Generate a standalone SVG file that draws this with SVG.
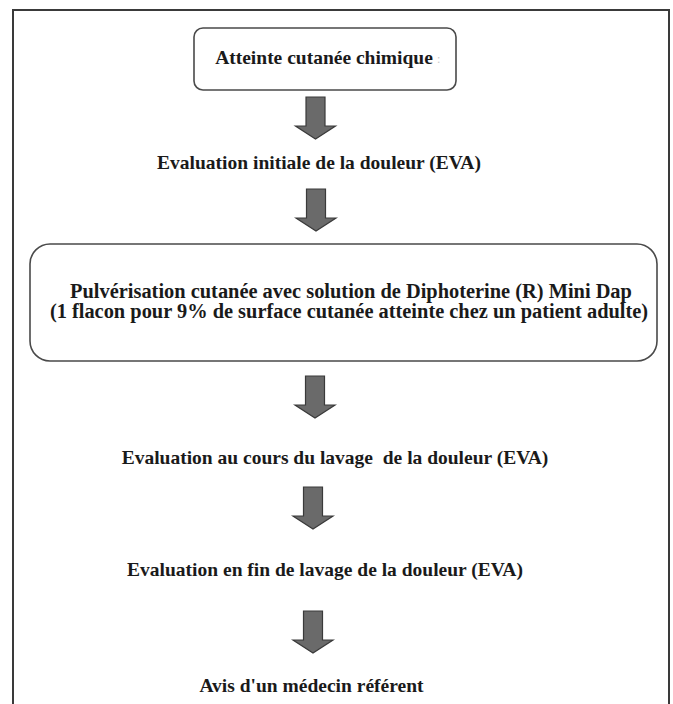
<svg xmlns="http://www.w3.org/2000/svg" width="673" height="704" viewBox="0 0 673 704">
  <defs>
    <style>
      .frame { fill: none; stroke: #3a3a3a; stroke-width: 2; }
      .box { fill: #ffffff; stroke: #4a4a4a; stroke-width: 1.6; }
      .lbl { font-family: "Liberation Serif", "Times New Roman", serif; font-weight: bold; font-size: 19.5px; fill: #1a1a1a; text-anchor: middle; }
      .big { font-size: 20.4px; }
      .arrow { fill: #6a6a6a; stroke: #3a3a3a; stroke-width: 1.2; stroke-linejoin: miter; }
    </style>
    <path id="downArrow" d="M -9.5 0 H 9.5 V 29 H 20 L 0 42 L -20 29 H -9.5 Z"/>
  </defs>
  <rect width="673" height="704" fill="#ffffff"/>
  <path class="frame" d="M 13 704 V 10 H 669 V 704"/>

  <g id="connectors">
    <use href="#downArrow" class="arrow" transform="translate(315.5 97)"/>
    <use href="#downArrow" class="arrow" transform="translate(316 189)"/>
    <use href="#downArrow" class="arrow" transform="translate(315 376)"/>
    <use href="#downArrow" class="arrow" transform="translate(313 487)"/>
    <use href="#downArrow" class="arrow" transform="translate(313 611)"/>
  </g>

  <g id="node-atteinte">
    <rect class="box" x="194" y="28" width="262" height="62" rx="9" ry="9"/>
    <text class="lbl" x="324" y="64">Atteinte cutanée chimique</text>
    <text x="437" y="63" font-family="Liberation Serif, serif" font-size="12" fill="#c8c8c8">:</text>
  </g>

  <g id="node-eva-initiale">
    <text class="lbl" x="319" y="169">Evaluation initiale de la douleur (EVA)</text>
  </g>

  <g id="node-pulverisation">
    <rect class="box" x="30" y="244" width="627" height="117" rx="20" ry="20"/>
    <text class="lbl big" x="351" y="298">Pulvérisation cutanée avec solution de Diphoterine (R) Mini Dap</text>
    <text class="lbl big" x="349" y="318">(1 flacon pour 9% de surface cutanée atteinte chez un patient adulte)</text>
  </g>

  <g id="node-eva-cours">
    <text class="lbl" x="335" y="464" xml:space="preserve">Evaluation au cours du lavage  de la douleur (EVA)</text>
  </g>

  <g id="node-eva-fin">
    <text class="lbl" x="325" y="576">Evaluation en fin de lavage de la douleur (EVA)</text>
  </g>

  <g id="node-avis">
    <text class="lbl" x="311.5" y="692">Avis d'un médecin référent</text>
  </g>
</svg>
